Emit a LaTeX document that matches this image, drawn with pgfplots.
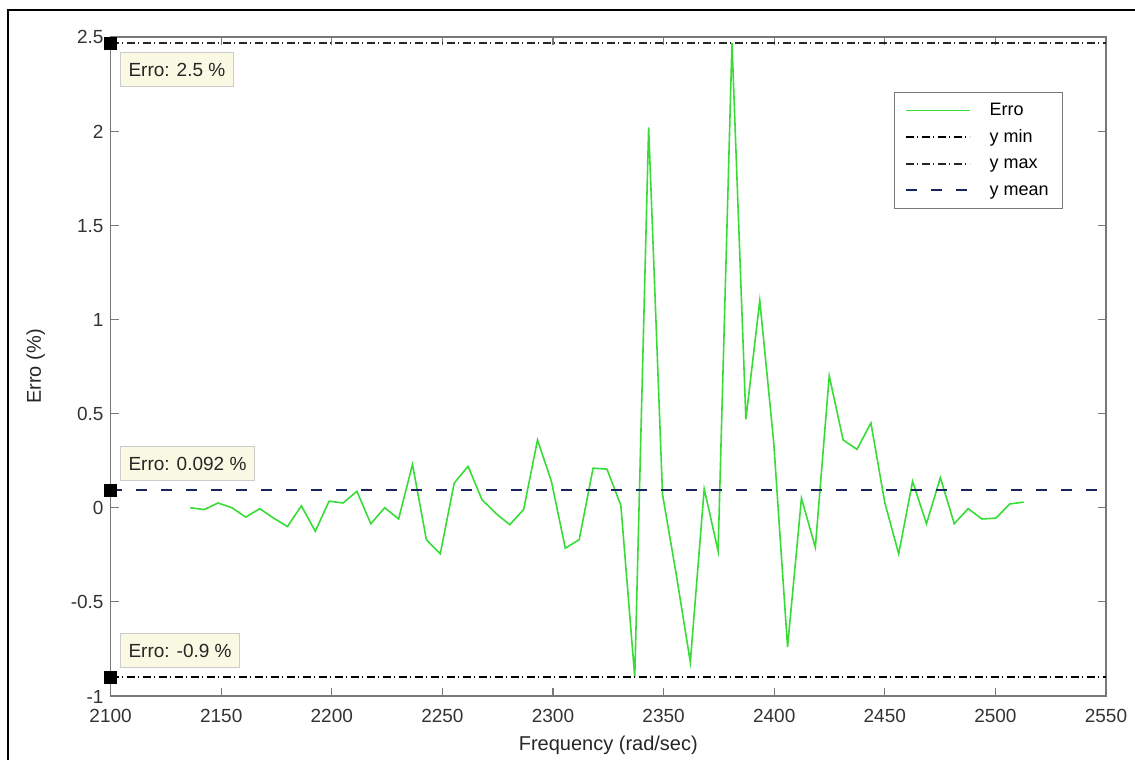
\documentclass[border=0pt]{standalone}
\usepackage{pgfplots}
\pgfplotsset{compat=1.18}
\usepackage{pgfplotstable}
\usepackage{fontspec}
\setmainfont{Liberation Sans}

\definecolor{errgreen}{RGB}{55,220,55}
\definecolor{meanblue}{RGB}{25,35,95}
\definecolor{tipfill}{RGB}{250,250,228}
\definecolor{axgray}{RGB}{120,120,120}

% frequency (rad/sec) vs. error (%)
\pgfplotstableread{
x y
2136.00 0.000
2142.28 -0.010
2148.56 0.025
2154.84 0.000
2161.12 -0.050
2167.40 -0.005
2173.68 -0.055
2179.96 -0.100
2186.24 0.010
2192.52 -0.125
2198.80 0.035
2205.08 0.025
2211.36 0.087
2217.64 -0.085
2223.92 0.000
2230.20 -0.060
2236.48 0.230
2242.76 -0.170
2249.04 -0.245
2255.32 0.130
2261.60 0.220
2267.88 0.043
2274.16 -0.030
2280.44 -0.090
2286.72 -0.010
2293.00 0.360
2299.28 0.140
2305.56 -0.215
2311.84 -0.170
2318.12 0.210
2324.40 0.205
2330.68 0.012
2336.96 -0.900
2343.24 2.020
2349.52 0.070
2355.80 -0.360
2362.08 -0.820
2368.36 0.100
2374.64 -0.230
2380.92 2.468
2387.20 0.470
2393.48 1.100
2399.76 0.350
2406.04 -0.740
2412.32 0.050
2418.60 -0.210
2424.88 0.700
2431.16 0.360
2437.44 0.310
2443.72 0.450
2450.00 0.027
2456.28 -0.245
2462.56 0.140
2468.84 -0.085
2475.12 0.160
2481.40 -0.085
2487.68 -0.005
2493.96 -0.060
2500.24 -0.055
2506.52 0.020
2512.80 0.030
}\errdata

\begin{document}
\begin{tikzpicture}
\useasboundingbox (-55.3pt,-32pt) rectangle (512.2pt,348pt);
\begin{axis}[
    at={(0,0)}, anchor=south west,
    scale only axis,
    width=497.7pt, height=329.5pt,
    xmin=2100, xmax=2550, ymin=-1, ymax=2.5,
    xtick={2100,2150,...,2550},
    ytick={-1,-0.5,0,0.5,1,1.5,2,2.5},
    clip=false,
    axis line style={axgray, line width=0.8pt},
    tick style={axgray, line width=0.6pt},
    tick align=inside,
    major tick length=4pt,
    /pgf/number format/assume math mode=true,
    /pgf/number format/1000 sep={},
    tick label style={font=\fontsize{9.5}{11}\selectfont, text=black!80},
    xticklabel style={yshift=-2.5pt, text height=7pt, text depth=0pt},
    yticklabel style={text height=7pt, text depth=0pt},
    xlabel={Frequency (rad/sec)},
    ylabel={Erro (\%)},
    xlabel style={at={(axis description cs:0.5,-0.0744)}, anchor=center, font=\fontsize{10}{12}\selectfont, text=black!85},
    ylabel style={at={(axis description cs:-0.0753,0.5)}, anchor=center, font=\fontsize{10}{12}\selectfont, text=black!85},
    legend image code/.code={\draw[#1] (0pt,0pt) -- (32pt,0pt); \path[draw=none, fill=none] (0pt,0pt) (40pt,0pt);},
    legend cell align=left,
    legend style={at={(0.787,0.9166)}, anchor=north west, draw=axgray, line width=0.6pt,
        font=\fontsize{9}{10}\selectfont, inner xsep=5pt, inner ysep=3.5pt, row sep=2.3pt,
        nodes={inner ysep=1pt, text height=7pt, text depth=2pt}},
]
\addplot[errgreen, line width=0.8pt] table[x=x, y=y] {\errdata};
\addplot[black, line width=0.8pt, dash pattern=on 4pt off 1.6pt on 0.8pt off 1.6pt] coordinates {(2100,-0.9) (2550,-0.9)};
\addplot[black!85, line width=0.8pt, dash pattern=on 4pt off 1.6pt on 0.8pt off 1.6pt] coordinates {(2100,2.468) (2550,2.468)};
\addplot[meanblue, line width=1.1pt, dash pattern=on 5.5pt off 7pt] coordinates {(2100,0.092) (2550,0.092)};
\legend{Erro, y min, y max, y mean}
% data tip markers
\addplot[forget plot, only marks, mark=square*, mark size=3pt, black] coordinates {(2100,2.468) (2100,0.092) (2100,-0.9)};
\node[anchor=north west, fill=tipfill, draw=black!20, font=\fontsize{9.5}{11}\selectfont, inner xsep=4pt, minimum height=17pt, text=black!85] at (axis cs:2104.3,2.42) {Erro: 2.5 \%};
\node[anchor=south west, fill=tipfill, draw=black!20, font=\fontsize{9.5}{11}\selectfont, inner xsep=4pt, minimum height=17pt, text=black!85] at (axis cs:2104.3,0.142) {Erro: 0.092 \%};
\node[anchor=south west, fill=tipfill, draw=black!20, font=\fontsize{9.5}{11}\selectfont, inner xsep=4pt, minimum height=17pt, text=black!85] at (axis cs:2104.3,-0.851) {Erro: -0.9 \%};
\end{axis}
\draw[line width=1pt] (-51.3pt,-32pt) -- (-51.3pt,343pt) -- (512.2pt,343pt);
\end{tikzpicture}
\end{document}
